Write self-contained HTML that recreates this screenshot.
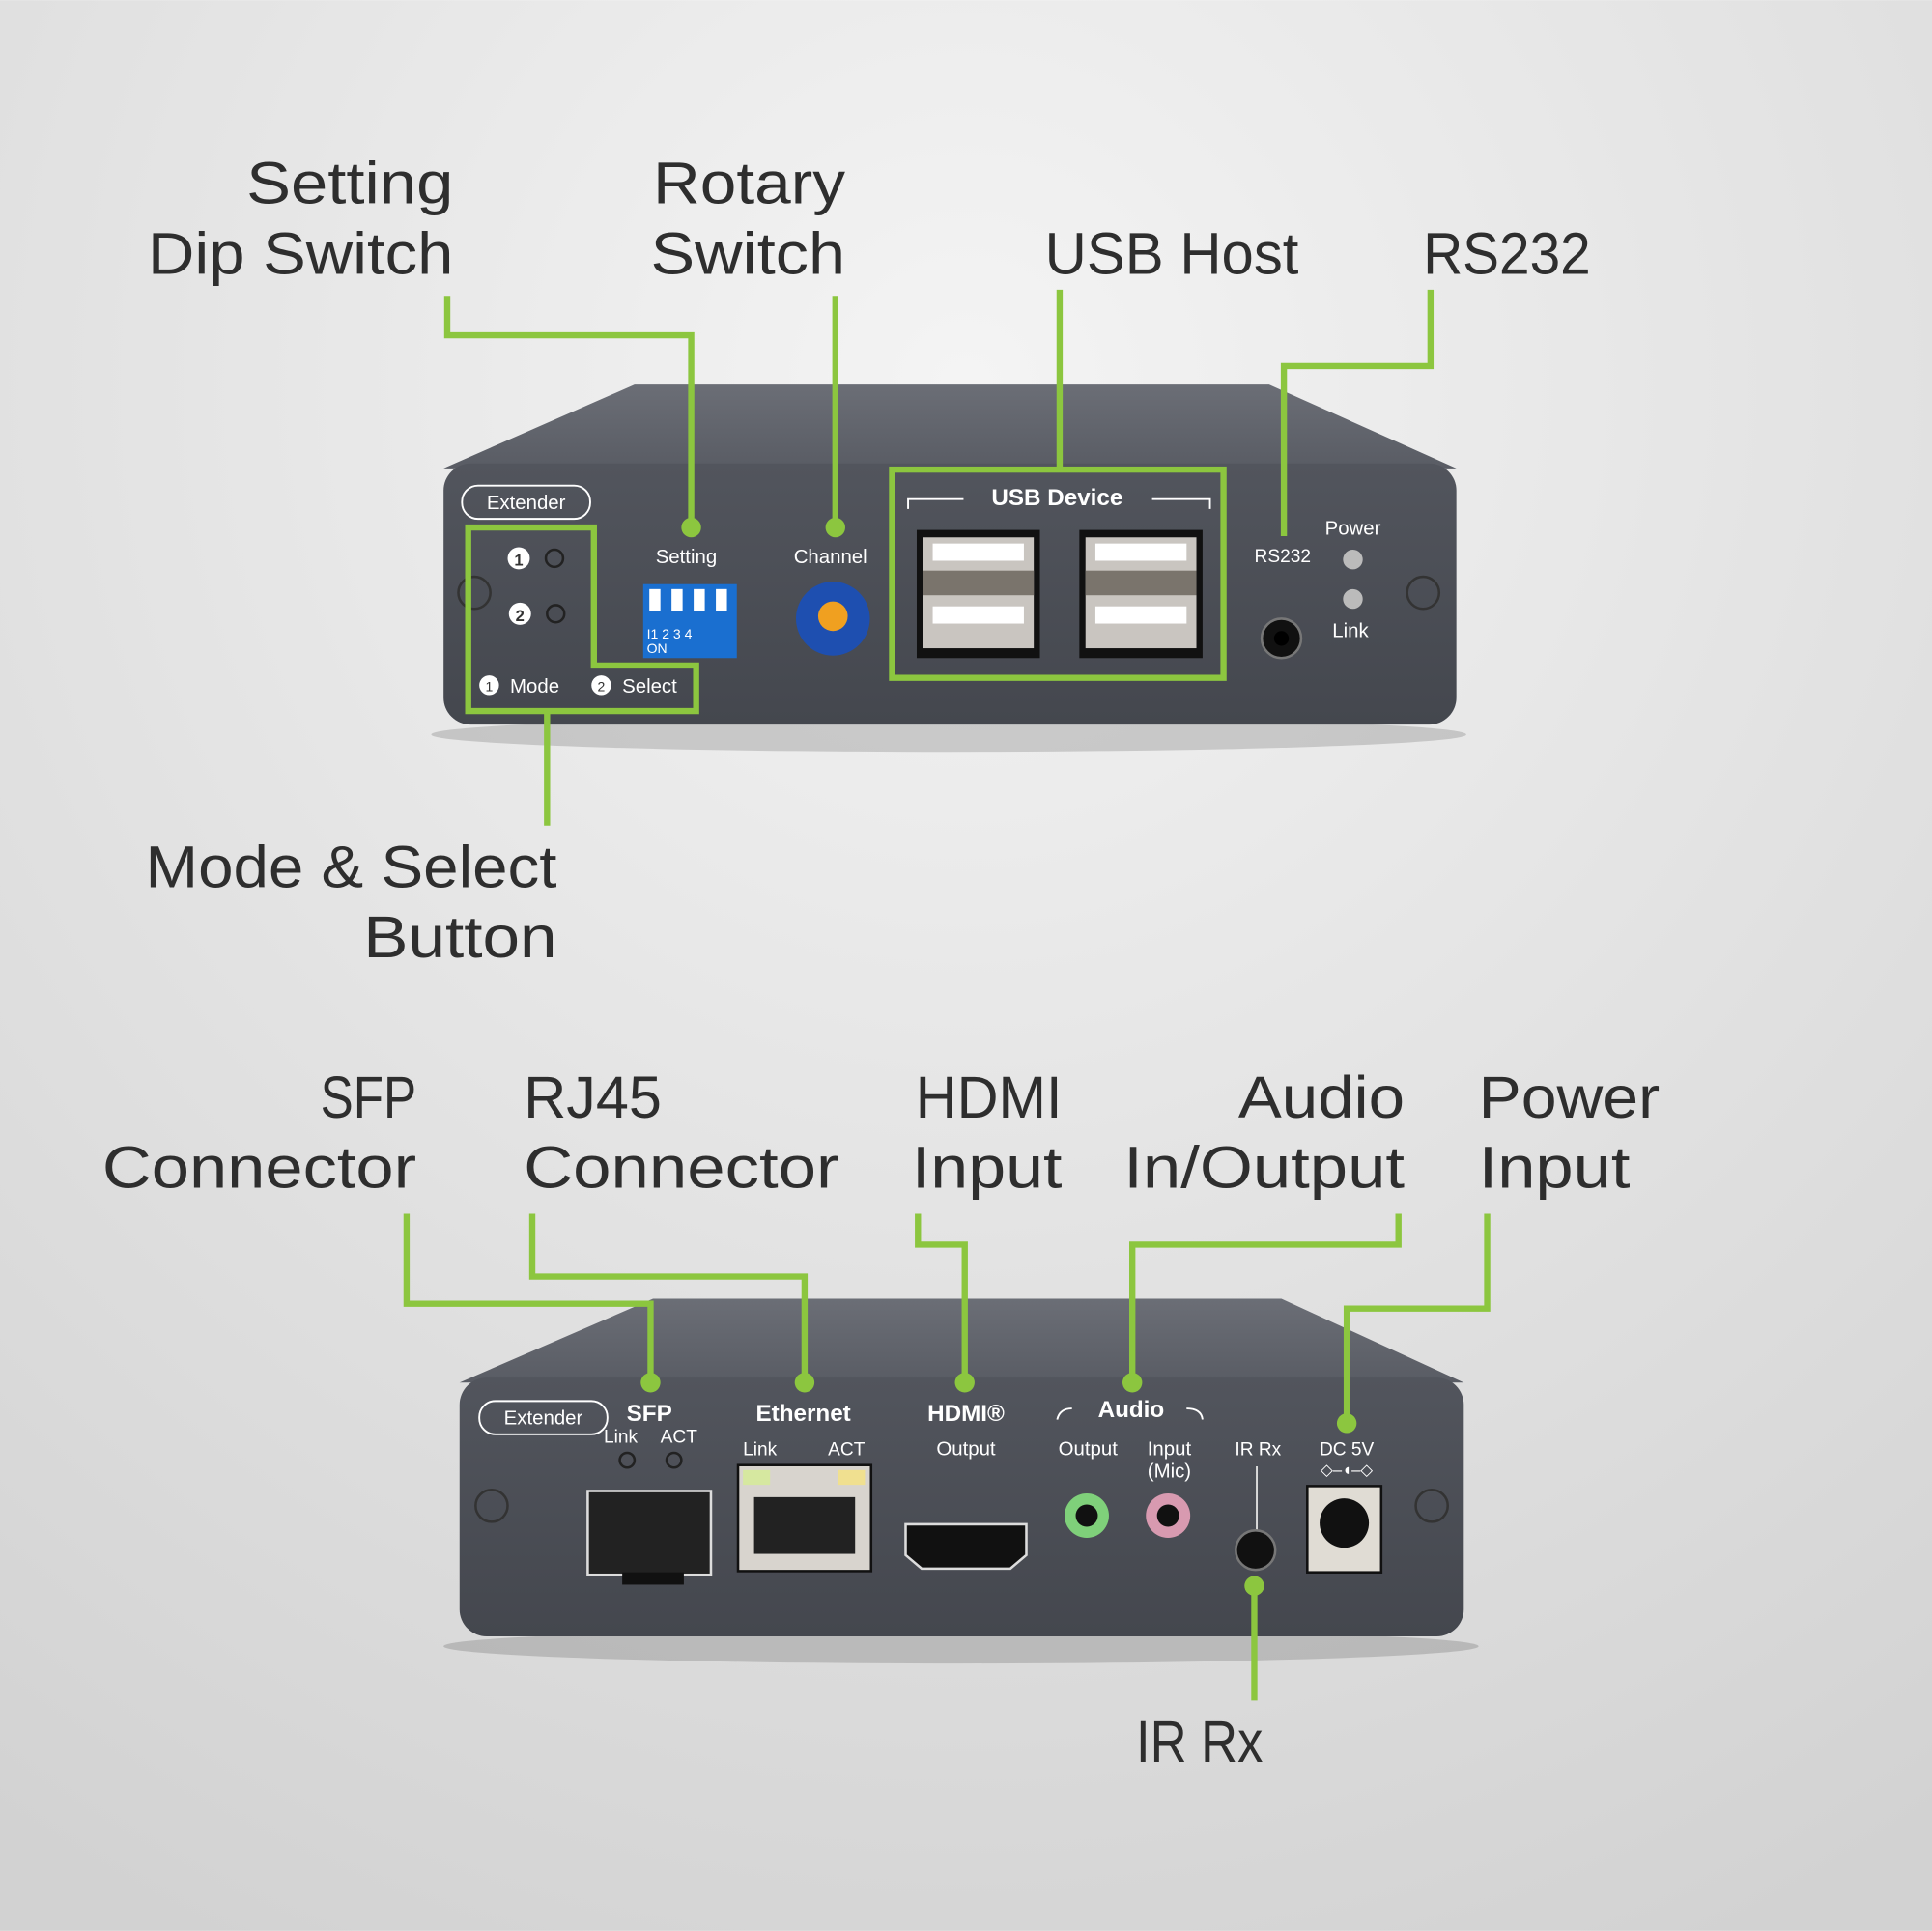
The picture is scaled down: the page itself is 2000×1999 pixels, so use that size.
<!DOCTYPE html>
<html><head><meta charset="utf-8"><style>
html,body{margin:0;padding:0;width:2000px;height:1999px;overflow:hidden}
svg{display:block}
text{font-family:"Liberation Sans",sans-serif}
</style></head><body>
<svg width="2000" height="1999" viewBox="0 0 1568 1567" xmlns="http://www.w3.org/2000/svg">
<defs>
<radialGradient id="bg" cx="50%" cy="20%" r="90%">
<stop offset="0" stop-color="#f4f4f4"/><stop offset="1" stop-color="#d2d2d2"/></radialGradient>
<linearGradient id="top" x1="0" y1="0" x2="0" y2="1"><stop offset="0" stop-color="#6b6e76"/><stop offset="1" stop-color="#595c64"/></linearGradient>
<linearGradient id="front" x1="0" y1="0" x2="0" y2="1"><stop offset="0" stop-color="#52555d"/><stop offset="1" stop-color="#44474e"/></linearGradient>
</defs>
<rect width="1568" height="1567" fill="url(#bg)"/>

<ellipse cx="770" cy="596" rx="420" ry="14" fill="#000" opacity="0.15"/>
<path d="M515 312 L1030 312 L1182 380 L360 380 Z" fill="url(#top)"/>
<rect x="360" y="376" width="822" height="212" rx="22" fill="url(#front)"/>
<rect x="375" y="394" width="104" height="27" rx="13" fill="none" stroke="#fff" stroke-width="1.5"/>
<text x="427" y="413" font-size="16" fill="#fff" text-anchor="middle">Extender</text>
<circle cx="385" cy="481" r="13" fill="none" stroke="#333" stroke-width="2"/>
<circle cx="1155" cy="481" r="13" fill="none" stroke="#333" stroke-width="2"/>
<circle cx="421" cy="453" r="9" fill="#fff"/><text x="421" y="459" font-size="13" text-anchor="middle" fill="#333" font-weight="bold">1</text>
<circle cx="450" cy="453" r="7" fill="none" stroke="#222" stroke-width="2"/>
<circle cx="422" cy="498" r="9" fill="#fff"/><text x="422" y="504" font-size="13" text-anchor="middle" fill="#333" font-weight="bold">2</text>
<circle cx="451" cy="498" r="7" fill="none" stroke="#222" stroke-width="2"/>
<circle cx="397" cy="556" r="8" fill="#fff"/><text x="397" y="561" font-size="11" text-anchor="middle" fill="#333">1</text>
<text x="414" y="562" font-size="16" fill="#fff">Mode</text>
<circle cx="488" cy="556" r="8" fill="#fff"/><text x="488" y="561" font-size="11" text-anchor="middle" fill="#333">2</text>
<text x="505" y="562" font-size="16" fill="#fff">Select</text>
<text x="557" y="457" font-size="16" fill="#fff" text-anchor="middle">Setting</text>
<rect x="522" y="474" width="76" height="60" fill="#1a6fd0"/>
<rect x="527" y="478" width="9" height="18" fill="#fff"/><rect x="545" y="478" width="9" height="18" fill="#fff"/><rect x="563" y="478" width="9" height="18" fill="#fff"/><rect x="581" y="478" width="9" height="18" fill="#fff"/>
<text x="525" y="518" font-size="11" fill="#fff">I1   2   3   4</text><text x="525" y="530" font-size="11" fill="#fff">ON</text>
<text x="674" y="457" font-size="16" fill="#fff" text-anchor="middle">Channel</text>
<circle cx="676" cy="502" r="30" fill="#1e4fb0"/><circle cx="676" cy="500" r="12" fill="#f0a020"/>
<text x="858" y="410" font-size="19" font-weight="bold" fill="#fff" text-anchor="middle">USB Device</text>
<path d="M737 413 V405 H782 M935 405 H982 V413" fill="none" stroke="#fff" stroke-width="1.5"/>
<g><rect x="744" y="430" width="100" height="104" fill="#111"/><rect x="749" y="436" width="90" height="90" fill="#c9c5c0"/><rect x="757" y="441" width="74" height="14" fill="#fff"/><rect x="757" y="492" width="74" height="14" fill="#fff"/><rect x="749" y="463" width="90" height="20" fill="#7a746c"/></g>
<g><rect x="876" y="430" width="100" height="104" fill="#111"/><rect x="881" y="436" width="90" height="90" fill="#c9c5c0"/><rect x="889" y="441" width="74" height="14" fill="#fff"/><rect x="889" y="492" width="74" height="14" fill="#fff"/><rect x="881" y="463" width="90" height="20" fill="#7a746c"/></g>
<text x="1041" y="456" font-size="15" fill="#fff" text-anchor="middle">RS232</text>
<circle cx="1040" cy="518" r="16" fill="#111" stroke="#777" stroke-width="2"/><circle cx="1040" cy="518" r="6" fill="#000"/>
<text x="1098" y="434" font-size="16" fill="#fff" text-anchor="middle">Power</text>
<circle cx="1098" cy="454" r="8" fill="#bbb"/><circle cx="1098" cy="486" r="8" fill="#bbb"/>
<text x="1096" y="517" font-size="16" fill="#fff" text-anchor="middle">Link</text>

<ellipse cx="780" cy="1336" rx="420" ry="14" fill="#000" opacity="0.15"/>
<path d="M530 1054 L1040 1054 L1188 1122 L373 1122 Z" fill="url(#top)"/>
<rect x="373" y="1118" width="815" height="210" rx="22" fill="url(#front)"/>
<rect x="389" y="1137" width="104" height="27" rx="13" fill="none" stroke="#fff" stroke-width="1.5"/>
<text x="441" y="1156" font-size="16" fill="#fff" text-anchor="middle">Extender</text>
<circle cx="399" cy="1222" r="13" fill="none" stroke="#333" stroke-width="2"/>
<circle cx="1162" cy="1222" r="13" fill="none" stroke="#333" stroke-width="2"/>
<text x="527" y="1153" font-size="19" font-weight="bold" fill="#fff" text-anchor="middle">SFP</text>
<text x="490" y="1171" font-size="15" fill="#fff">Link</text><text x="536" y="1171" font-size="15" fill="#fff">ACT</text>
<circle cx="509" cy="1185" r="6" fill="none" stroke="#222" stroke-width="2"/><circle cx="547" cy="1185" r="6" fill="none" stroke="#222" stroke-width="2"/>
<rect x="477" y="1210" width="100" height="68" fill="#222" stroke="#ddd" stroke-width="2"/><rect x="505" y="1276" width="50" height="10" fill="#111"/>
<text x="652" y="1153" font-size="19" font-weight="bold" fill="#fff" text-anchor="middle">Ethernet</text>
<text x="603" y="1181" font-size="15" fill="#fff">Link</text><text x="672" y="1181" font-size="15" fill="#fff">ACT</text>
<rect x="599" y="1189" width="108" height="86" fill="#d8d4ce" stroke="#111" stroke-width="2"/>
<rect x="603" y="1193" width="22" height="12" fill="#d6e8a0"/><rect x="680" y="1193" width="22" height="12" fill="#f0e090"/>
<rect x="612" y="1215" width="82" height="46" fill="#222"/>
<text x="784" y="1153" font-size="19" font-weight="bold" fill="#fff" text-anchor="middle">HDMI®</text>
<text x="784" y="1181" font-size="16" fill="#fff" text-anchor="middle">Output</text>
<path d="M735 1237 H833 V1262 L820 1273 H748 L735 1262 Z" fill="#111" stroke="#ddd" stroke-width="2"/>
<text x="918" y="1150" font-size="19" font-weight="bold" fill="#fff" text-anchor="middle">Audio</text>
<path d="M858 1152 Q860 1143 870 1143 M963 1143 Q975 1143 976 1152" fill="none" stroke="#fff" stroke-width="1.5"/>
<text x="883" y="1181" font-size="16" fill="#fff" text-anchor="middle">Output</text>
<text x="949" y="1181" font-size="16" fill="#fff" text-anchor="middle">Input</text>
<text x="949" y="1199" font-size="16" fill="#fff" text-anchor="middle">(Mic)</text>
<circle cx="882" cy="1230" r="18" fill="#7fd07a"/><circle cx="882" cy="1230" r="9" fill="#111"/>
<circle cx="948" cy="1230" r="18" fill="#d89ab0"/><circle cx="948" cy="1230" r="9" fill="#111"/>
<text x="1021" y="1181" font-size="15" fill="#fff" text-anchor="middle">IR Rx</text>
<line x1="1020" y1="1190" x2="1020" y2="1242" stroke="#ddd" stroke-width="1.5"/>
<circle cx="1019" cy="1258" r="16" fill="#111" stroke="#777" stroke-width="2"/>
<text x="1093" y="1181" font-size="15" fill="#fff" text-anchor="middle">DC 5V</text>
<text x="1093" y="1197" font-size="13" fill="#fff" text-anchor="middle">◇–◖–◇</text>
<rect x="1061" y="1206" width="60" height="70" fill="#e0dcd4" stroke="#111" stroke-width="2"/>
<circle cx="1091" cy="1236" r="20" fill="#111"/>

<g fill="none" stroke="#8cc63f" stroke-width="5">
<polyline points="363,240 363,272 561,272 561,428"/>
<polyline points="678,240 678,428"/>
<polyline points="860,235 860,381"/>
<rect x="724" y="381" width="269" height="169"/>
<polyline points="1161,235 1161,297 1042,297 1042,435"/>
<polygon points="380,428 482,428 482,540 565,540 565,577 380,577"/>
<polyline points="444,577 444,670"/>
<polyline points="330,985 330,1058 528,1058 528,1122"/>
<polyline points="432,985 432,1036 653,1036 653,1122"/>
<polyline points="745,985 745,1010 783,1010 783,1122"/>
<polyline points="1135,985 1135,1010 919,1010 919,1122"/>
<polyline points="1207,985 1207,1062 1093,1062 1093,1155"/>
<polyline points="1018,1287 1018,1380"/>
</g>
<g fill="#8cc63f">
<circle cx="561" cy="428" r="8"/><circle cx="678" cy="428" r="8"/>
<circle cx="528" cy="1122" r="8"/><circle cx="653" cy="1122" r="8"/><circle cx="783" cy="1122" r="8"/><circle cx="919" cy="1122" r="8"/><circle cx="1093" cy="1155" r="8"/><circle cx="1018" cy="1287" r="8"/>
</g>

<g font-size="48" fill="#2e2e2e">
<text x="200" y="165" textLength="168" lengthAdjust="spacingAndGlyphs">Setting</text>
<text x="120" y="222" textLength="248" lengthAdjust="spacingAndGlyphs">Dip Switch</text>
<text x="530" y="165" textLength="156" lengthAdjust="spacingAndGlyphs">Rotary</text>
<text x="528" y="222" textLength="158" lengthAdjust="spacingAndGlyphs">Switch</text>
<text x="848" y="222" textLength="206" lengthAdjust="spacingAndGlyphs">USB Host</text>
<text x="1155" y="222" textLength="136" lengthAdjust="spacingAndGlyphs">RS232</text>
<text x="118" y="720" textLength="334" lengthAdjust="spacingAndGlyphs">Mode &amp; Select</text>
<text x="295" y="777" textLength="157" lengthAdjust="spacingAndGlyphs">Button</text>
<text x="260" y="907" textLength="78" lengthAdjust="spacingAndGlyphs">SFP</text>
<text x="83" y="964" textLength="255" lengthAdjust="spacingAndGlyphs">Connector</text>
<text x="425" y="907" textLength="112" lengthAdjust="spacingAndGlyphs">RJ45</text>
<text x="425" y="964" textLength="256" lengthAdjust="spacingAndGlyphs">Connector</text>
<text x="743" y="907" textLength="119" lengthAdjust="spacingAndGlyphs">HDMI</text>
<text x="740" y="964" textLength="122" lengthAdjust="spacingAndGlyphs">Input</text>
<text x="1005" y="907" textLength="135" lengthAdjust="spacingAndGlyphs">Audio</text>
<text x="912" y="964" textLength="228" lengthAdjust="spacingAndGlyphs">In/Output</text>
<text x="1200" y="907" textLength="147" lengthAdjust="spacingAndGlyphs">Power</text>
<text x="1200" y="964" textLength="123" lengthAdjust="spacingAndGlyphs">Input</text>
<text x="922" y="1430" textLength="103" lengthAdjust="spacingAndGlyphs">IR Rx</text>
</g>
</svg>
</body></html>
